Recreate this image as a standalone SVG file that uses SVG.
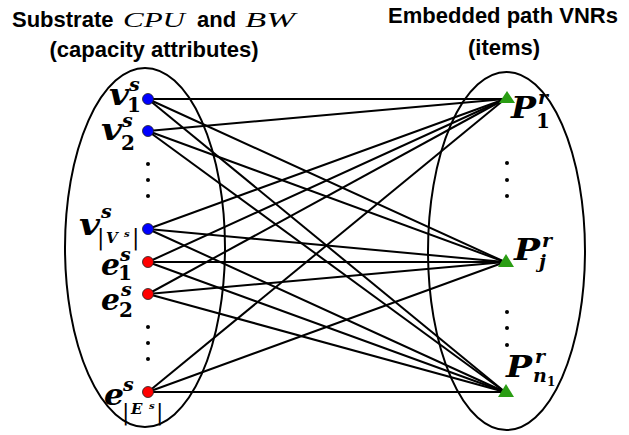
<svg xmlns="http://www.w3.org/2000/svg" width="629" height="435" viewBox="0 0 629 435">
<style>
.t{font-family:"Liberation Sans",Arial,sans-serif;font-weight:bold;font-size:22px;fill:#000}
.mt{font-family:"Liberation Serif","DejaVu Serif",serif;font-style:italic;font-size:21px;fill:#000}
.m{font-family:"DejaVu Serif",serif;font-weight:bold;font-style:italic;fill:#000}
.d{font-weight:bold;font-style:normal}
.up{font-weight:normal;font-style:normal}
.big{font-size:30px}
.sm{font-size:19px}
.sb{font-size:20px}
.xs{font-size:10px}
.mid{font-size:15px}
.bar{font-size:22px}
.e{stroke:#000;stroke-width:2;fill:none}
.set{stroke:#000;stroke-width:2;fill:none}
.vn{fill:#0000ff;stroke:#202020;stroke-width:0.8}
.en{fill:#ff0000;stroke:#202020;stroke-width:0.8}
.pn{fill:#2a9d13}
.dot{fill:#000}
</style>

<g id="titles">
<text class="t" x="12" y="27">Substrate</text>
<text class="mt" x="123" y="27" textLength="62" lengthAdjust="spacingAndGlyphs">CPU</text>
<text class="t" x="197" y="27">and</text>
<text class="mt" x="245" y="27" textLength="50" lengthAdjust="spacingAndGlyphs">BW</text>
<text class="t" x="154" y="57" text-anchor="middle">(capacity attributes)</text>
<text class="t" x="503" y="23" text-anchor="middle">Embedded path VNRs</text>
<text class="t" x="504" y="55" text-anchor="middle">(items)</text>
</g>

<g id="sets">
<ellipse class="set" cx="145" cy="247.5" rx="80" ry="179.5"/>
<ellipse class="set" cx="506.5" cy="251" rx="78.5" ry="179"/>
</g>

<g id="connectors">
<line class="e" x1="148" y1="99" x2="505" y2="99"/>
<line class="e" x1="148" y1="99" x2="505" y2="262"/>
<line class="e" x1="148" y1="99" x2="505" y2="392"/>
<line class="e" x1="148" y1="131" x2="505" y2="99"/>
<line class="e" x1="148" y1="131" x2="505" y2="262"/>
<line class="e" x1="148" y1="131" x2="505" y2="392"/>
<line class="e" x1="148" y1="229" x2="505" y2="99"/>
<line class="e" x1="148" y1="229" x2="505" y2="262"/>
<line class="e" x1="148" y1="229" x2="505" y2="392"/>
<line class="e" x1="148" y1="262" x2="505" y2="99"/>
<line class="e" x1="148" y1="262" x2="505" y2="262"/>
<line class="e" x1="148" y1="262" x2="505" y2="392"/>
<line class="e" x1="148" y1="294" x2="505" y2="99"/>
<line class="e" x1="148" y1="294" x2="505" y2="262"/>
<line class="e" x1="148" y1="294" x2="505" y2="392"/>
<line class="e" x1="148" y1="392" x2="505" y2="99"/>
<line class="e" x1="148" y1="392" x2="505" y2="262"/>
<line class="e" x1="148" y1="392" x2="505" y2="392"/>
</g>

<g id="ellipsis">
<circle class="dot" cx="148" cy="164" r="2"/>
<circle class="dot" cx="148" cy="180" r="2"/>
<circle class="dot" cx="148" cy="196" r="2"/>
<circle class="dot" cx="148" cy="327" r="2"/>
<circle class="dot" cx="148" cy="343" r="2"/>
<circle class="dot" cx="148" cy="359" r="2"/>
<circle class="dot" cx="507" cy="163" r="2"/>
<circle class="dot" cx="507" cy="180" r="2"/>
<circle class="dot" cx="507" cy="196" r="2"/>
<circle class="dot" cx="507" cy="312" r="2"/>
<circle class="dot" cx="507" cy="328" r="2"/>
<circle class="dot" cx="507" cy="345" r="2"/>
</g>

<g id="v1">
<circle class="vn" cx="148" cy="99" r="5.5"/>
<text class="m"><tspan class="big" x="109" y="105" textLength="20" lengthAdjust="spacingAndGlyphs">v</tspan><tspan class="sm" x="129" y="91">s</tspan><tspan class="d sb" x="127" y="112">1</tspan></text>
</g>
<g id="v2">
<circle class="vn" cx="148" cy="131" r="5.5"/>
<text class="m"><tspan class="big" x="101" y="140" textLength="21" lengthAdjust="spacingAndGlyphs">v</tspan><tspan class="sm" x="122" y="127">s</tspan><tspan class="d sb" x="121" y="150">2</tspan></text>
</g>
<g id="vV">
<circle class="vn" cx="148" cy="229" r="5.5"/>
<text class="m"><tspan class="big" x="79" y="235" textLength="21" lengthAdjust="spacingAndGlyphs">v</tspan><tspan class="sm" x="101" y="218">s</tspan><tspan class="up bar" x="97" y="245">|</tspan><tspan class="mid" x="106" y="243">V</tspan><tspan class="xs" x="124" y="237">s</tspan><tspan class="up bar" x="132" y="245">|</tspan></text>
</g>
<g id="e1">
<circle class="en" cx="148" cy="262" r="5.5"/>
<text class="m"><tspan class="big" x="101" y="275" textLength="19" lengthAdjust="spacingAndGlyphs">e</tspan><tspan class="sm" x="120" y="261">s</tspan><tspan class="d sb" x="118" y="280">1</tspan></text>
</g>
<g id="e2">
<circle class="en" cx="148" cy="294" r="5.5"/>
<text class="m"><tspan class="big" x="101" y="310" textLength="19" lengthAdjust="spacingAndGlyphs">e</tspan><tspan class="sm" x="121" y="296">s</tspan><tspan class="d sb" x="119" y="317">2</tspan></text>
</g>
<g id="eE">
<circle class="en" cx="148" cy="392" r="5.5"/>
<text class="m"><tspan class="big" x="104" y="405" textLength="20" lengthAdjust="spacingAndGlyphs">e</tspan><tspan class="sm" x="123" y="391">s</tspan><tspan class="up bar" x="122" y="420">|</tspan><tspan class="mid" x="131" y="414">E</tspan><tspan class="xs" x="149" y="409">s</tspan><tspan class="up bar" x="156" y="420">|</tspan></text>
</g>

<g id="P1">
<polygon class="pn" points="507,91 499,103 515,103"/>
<text class="m"><tspan class="big" x="511" y="118" textLength="25" lengthAdjust="spacingAndGlyphs">P</tspan><tspan class="sm" x="538" y="104">r</tspan><tspan class="d sb" x="536" y="128">1</tspan></text>
</g>
<g id="Pj">
<polygon class="pn" points="506,254 498,267 514,267"/>
<text class="m"><tspan class="big" x="514" y="260" textLength="26" lengthAdjust="spacingAndGlyphs">P</tspan><tspan class="sm" x="542" y="247">r</tspan><tspan class="sm" x="539" y="268">j</tspan></text>
</g>
<g id="Pn1">
<polygon class="pn" points="506,384 498,397 514,397"/>
<text class="m"><tspan class="big" x="506" y="377" textLength="26" lengthAdjust="spacingAndGlyphs">P</tspan><tspan class="sm" x="535" y="363">r</tspan><tspan class="sm" x="533" y="382">n</tspan><tspan class="d" x="547" y="386" style="font-size:12px">1</tspan></text>
</g>
</svg>
